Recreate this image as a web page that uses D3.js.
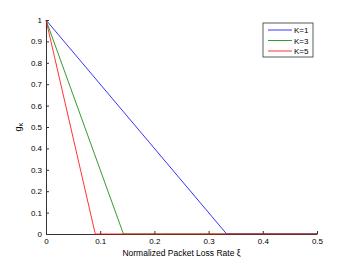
<!DOCTYPE html>
<meta charset="utf-8">
<html>
<script src="https://d3js.org/d3.v7.min.js"></script>
<style>
  body { margin: 0; background: #fff; }
  text { font-family: "Liberation Sans", Arial, sans-serif; }
</style>
<body>
<div id="chart"></div>
<script>
    // data: g_K drops linearly to zero, then stays at zero
    const seriesNames = ["K=1", "K=3", "K=5"];
    const seriesColors = ["#0000ff", "#008000", "#ff0000"];
    const xK1 = [0, 0.3333, 0.5], yK1 = [1, 0, 0];
    const xK3 = [0, 0.1429, 0.5], yK3 = [1, 0, 0];
    const xK5 = [0, 0.0909, 0.5], yK5 = [1, 0, 0];
    const xTicks = [0, 0.1, 0.2, 0.3, 0.4, 0.5];
    const yTicks = [0, 0.1, 0.2, 0.3, 0.4, 0.5, 0.6, 0.7, 0.8, 0.9, 1];

    const width = 350, height = 264;
    const margin = {left: 46, right: 33, top: 20, bottom: 30};

    const svg = d3.select("#chart").append("svg")
        .attr("width", width)
        .attr("height", height);

    const x = d3.scaleLinear().domain([0, 0.5]).range([margin.left, width - margin.right]);
    const y = d3.scaleLinear().domain([0, 1]).range([height - margin.bottom, margin.top]);

    // axes, MATLAB style: ticks pointing in
    const xAxis = svg.append("g")
        .attr("transform", `translate(0,${y(0)})`)
        .call(d3.axisBottom(x).tickValues(xTicks).tickSizeInner(-3).tickSizeOuter(0).tickPadding(4)
            .tickFormat(d => d === 0 ? "0" : d3.format(".1f")(d)));
    const yAxis = svg.append("g")
        .attr("transform", `translate(${x(0)},0)`)
        .call(d3.axisLeft(y).tickValues(yTicks).tickSizeInner(-3).tickSizeOuter(0).tickPadding(4)
            .tickFormat(d => d === 0 || d === 1 ? String(d) : d3.format(".1f")(d)));

    [xAxis, yAxis].forEach(a => {
        a.selectAll("path").attr("stroke", "#333").attr("stroke-width", 1);
        a.selectAll("line").attr("stroke", "#333");
        a.selectAll("text").attr("fill", "#000").style("font-size", "8px");
    });

    const line = d3.line().x(d => x(d[0])).y(d => y(d[1]));
    const series = [d3.zip(xK1, yK1), d3.zip(xK3, yK3), d3.zip(xK5, yK5)];
    series.forEach((s, i) => {
        svg.append("path")
            .datum(s)
            .attr("d", line)
            .attr("fill", "none")
            .attr("stroke", seriesColors[i])
            .attr("stroke-width", 0.8);
    });

    // axis labels
    svg.append("text")
        .attr("x", x(0.25))
        .attr("y", height - 8)
        .attr("text-anchor", "middle")
        .style("font-size", "8.5px")
        .text("Normalized Packet Loss Rate ξ");

    const yl = svg.append("text")
        .attr("transform", `translate(21,${y(0.5)}) rotate(-90)`)
        .attr("text-anchor", "middle")
        .style("font-size", "9px");
    yl.append("tspan").text("g");
    yl.append("tspan").attr("dy", 2).style("font-size", "6px").text("K");

    // legend
    const lg = svg.append("g").attr("transform", "translate(263,23)");
    lg.append("rect")
        .attr("width", 50).attr("height", 34)
        .attr("fill", "#fff").attr("stroke", "#333").attr("stroke-width", 0.8);
    seriesNames.forEach((n, i) => {
        const yy = 7 + i * 10.5;
        lg.append("line")
            .attr("x1", 5).attr("x2", 29)
            .attr("y1", yy).attr("y2", yy)
            .attr("stroke", seriesColors[i]).attr("stroke-width", 0.8);
        lg.append("text")
            .attr("x", 31).attr("y", yy + 3)
            .style("font-size", "8px")
            .text(n);
    });
</script>
</body>
</html>
